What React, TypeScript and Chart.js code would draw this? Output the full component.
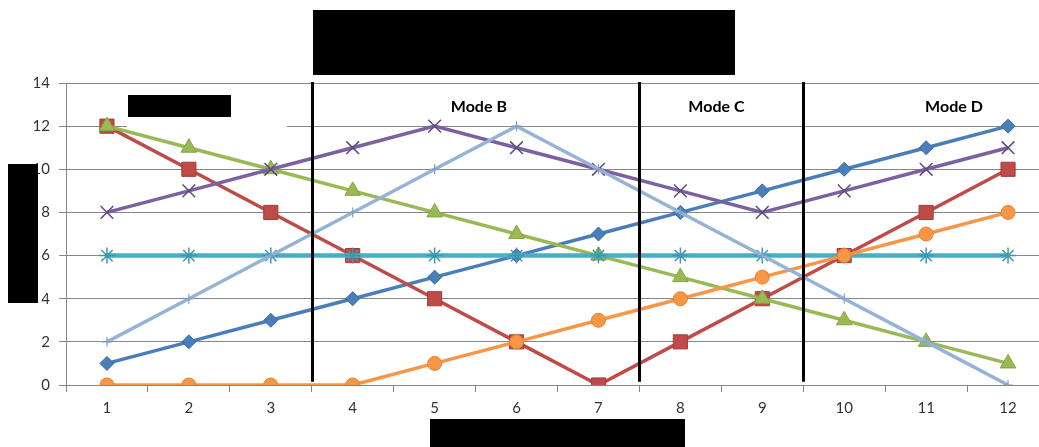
import React, { useEffect, useRef } from "react";
import { Chart, registerables } from "chart.js";

Chart.register(...registerables);

const categories = ["1", "2", "3", "4", "5", "6", "7", "8", "9", "10", "11", "12"];
const seriesBlue = [1, 2, 3, 4, 5, 6, 7, 8, 9, 10, 11, 12];
const seriesRed = [12, 10, 8, 6, 4, 2, 0, 2, 4, 6, 8, 10];
const seriesGreen = [12, 11, 10, 9, 8, 7, 6, 5, 4, 3, 2, 1];
const seriesPurple = [8, 9, 10, 11, 12, 11, 10, 9, 8, 9, 10, 11];
const seriesTeal = [6, 6, 6, 6, 6, 6, 6, 6, 6, 6, 6, 6];
const seriesOrange = [0, 0, 0, 0, 1, 2, 3, 4, 5, 6, 7, 8];
const seriesLightBlue = [2, 4, 6, 8, 10, 12, 10, 8, 6, 4, 2, 0];

const yTicks = [0, 2, 4, 6, 8, 10, 12, 14];
const modeDividers = [3.5, 7.5, 9.5];
const modeLabels = ["Mode B", "Mode C", "Mode D"];
const modeLabelPositions = [5.54, 8.44, 11.34];
const modeLabelValue = 12.9;

const FONT = "Lato, Carlito, Calibri, 'Liberation Sans', sans-serif";

const overlayPlugin = {
  id: "overlayPlugin",
  beforeDatasetsDraw(chart: any) {
    const ctx = chart.ctx;
    ctx.save();
    // white label box behind the (redacted) first mode label
    ctx.fillStyle = "#ffffff";
    ctx.fillRect(127, 92, 160, 38);
    ctx.restore();
  },
  afterDatasetsDraw(chart: any) {
    const ctx = chart.ctx;
    const xs = chart.scales.x;
    const ys = chart.scales.y;
    ctx.save();
    ctx.strokeStyle = "#000000";
    ctx.lineWidth = 3;
    modeDividers.forEach((d) => {
      const px = Math.round(xs.getPixelForValue(d - 1)) + 0.5;
      ctx.beginPath();
      ctx.moveTo(px, ys.getPixelForValue(14) - 1);
      ctx.lineTo(px, ys.getPixelForValue(0.15));
      ctx.stroke();
    });
    ctx.fillStyle = "#000000";
    ctx.font = `bold 16px ${FONT}`;
    ctx.textAlign = "center";
    ctx.textBaseline = "middle";
    modeLabels.forEach((t, i) => {
      ctx.fillText(t, xs.getPixelForValue(modeLabelPositions[i] - 1), ys.getPixelForValue(modeLabelValue));
    });
    // redaction boxes
    ctx.fillStyle = "#000000";
    ctx.fillRect(313, 10, 422, 65);
    ctx.fillRect(128, 95, 103, 22);
    ctx.fillRect(8, 164, 30, 139);
    ctx.fillRect(430, 419, 255, 28);
    ctx.restore();
  },
};

function mk(label: string, data: number[], color: string, border: string, style: string, radius: number, order: number, width = 3.5, pbw = 1) {
  return {
    label,
    data,
    borderColor: color,
    backgroundColor: color,
    pointBackgroundColor: color,
    pointBorderColor: border,
    pointBorderWidth: pbw,
    pointStyle: style,
    pointRadius: radius,
    borderWidth: width,
    tension: 0,
    order,
  };
}

export default function App() {
  const ref = useRef<HTMLCanvasElement | null>(null);
  useEffect(() => {
    if (!ref.current) return;
    const chart = new Chart(ref.current, {
      type: "line",
      data: {
        labels: categories,
        datasets: [
          mk("Blue", seriesBlue, "#4A7EBB", "#3A6AA6", "rectRot", 7, 7),
          mk("Red", seriesRed, "#BE4B48", "#A33D3A", "rect", 10, 6),
          mk("Green", seriesGreen, "#98B954", "#86A546", "triangle", 9, 5),
          mk("Purple", seriesPurple, "#7D60A0", "#5E4A7D", "crossRot", 9, 4, 3.5, 1.5),
          mk("Teal", seriesTeal, "#4BACC6", "#3D97B0", "star", 8, 3, 4.5, 1.5),
          mk("Orange", seriesOrange, "#F79646", "#E3832F", "circle", 7, 2),
          mk("LightBlue", seriesLightBlue, "#95B3D7", "#7F9FC8", "cross", 5, 1, 3.5, 1.2),
        ] as any,
      },
      options: {
        responsive: true,
        maintainAspectRatio: false,
        animation: false,
        layout: { padding: { left: 8, top: 83, right: 10, bottom: 0 } },
        plugins: { legend: { display: false }, tooltip: { enabled: false }, title: { display: false } },
        scales: {
          x: {
            type: "category",
            offset: true,
            grid: { offset: true, drawOnChartArea: false, drawTicks: true, tickLength: 7, color: "#868686" },
            border: { color: "#868686", width: 1 },
            ticks: { font: { family: FONT, size: 15 }, color: "#333333", padding: 7, maxRotation: 0, autoSkip: false },
            afterFit: (s: any) => {
              s.height = 62;
            },
          },
          y: {
            min: 0,
            max: 14,
            afterBuildTicks: (s: any) => {
              s.ticks = yTicks.map((v) => ({ value: v }));
            },
            grid: { color: "#868686", tickLength: 7, drawTicks: true },
            border: { color: "#868686", width: 1 },
            ticks: { font: { family: FONT, size: 15 }, color: "#333333", padding: 9 },
            afterFit: (s: any) => {
              s.width = 58;
            },
          },
        },
      } as any,
      plugins: [overlayPlugin],
    });
    return () => chart.destroy();
  }, []);
  return (
    <div style={{ position: "absolute", left: 0, top: 0, width: 1039, height: 447, overflow: "hidden", background: "#fff" }}>
      <div style={{ position: "relative", width: 1060, height: 447 }}>
        <canvas ref={ref} />
      </div>
    </div>
  );
}
